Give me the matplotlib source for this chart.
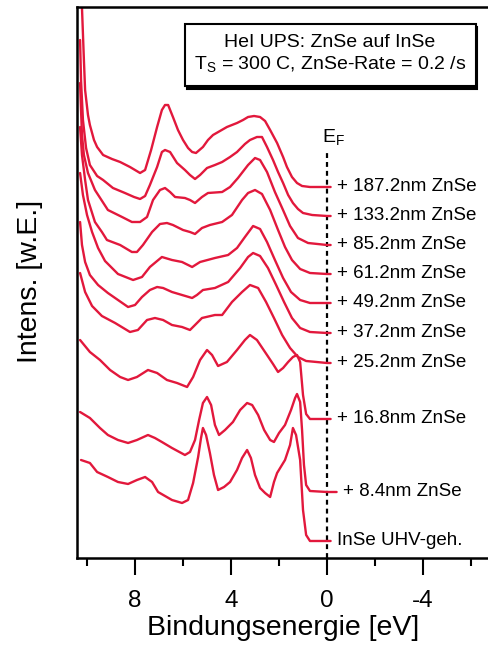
import matplotlib
matplotlib.use("Agg")
import matplotlib.pyplot as plt
from matplotlib.patches import Rectangle

plt.rcParams['font.family'] = ['Liberation Sans', 'DejaVu Sans']
plt.rcParams['mathtext.default'] = 'regular'
plt.rcParams['axes.unicode_minus'] = False

# HeI UPS spectra (binding energy in eV, intensity in a.u. incl. offset)
e_1872 = [10.21, 10.13, 10.08, 9.96, 9.88, 9.71, 9.58, 9.33, 8.96, 8.62, 8.21, 7.79, 7.58, 7.33, 7.08,
          6.88, 6.75, 6.62, 6.42, 6.21, 6.00, 5.79, 5.62, 5.46, 5.17, 4.96, 4.75, 4.46, 4.17, 3.75,
          3.50, 3.29, 3.04, 2.79, 2.58, 2.37, 2.08, 1.83, 1.67, 1.46, 1.25, 1.04, 0.71, 0.00, -0.15]
i_1872 = [550, 498, 468, 443, 433, 418, 411, 403, 399, 396, 391, 385, 388, 408, 431,
          448, 453, 453, 441, 428, 418, 410, 406, 405, 411, 418, 423, 427, 431, 435,
          438, 441, 442, 441, 437, 428, 415, 401, 391, 381, 375, 372, 371, 371, 371]

e_1332 = [10.29, 10.25, 10.17, 10.04, 9.88, 9.58, 9.33, 8.92, 8.42, 8.04, 7.79, 7.58, 7.38, 7.08,
          6.88, 6.75, 6.54, 6.25, 5.92, 5.71, 5.50, 5.29, 5.00, 4.67, 4.37, 4.04, 3.75, 3.42,
          3.21, 2.92, 2.71, 2.50, 2.25, 2.04, 1.83, 1.62, 1.42, 1.21, 1.00, 0.62, 0.00, -0.15]
i_1332 = [518, 478, 438, 410, 393, 382, 378, 370, 365, 361, 359, 362, 373, 391,
          406, 408, 406, 395, 388, 383, 379, 383, 390, 393, 396, 401, 406, 414,
          418, 421, 421, 411, 398, 386, 375, 363, 355, 349, 345, 343, 342, 342]

e_852 = [10.29, 10.25, 10.21, 10.13, 9.96, 9.67, 9.13, 8.54, 8.13, 7.79, 7.50, 7.25, 6.96, 6.75,
         6.54, 6.33, 5.92, 5.71, 5.50, 5.21, 4.96, 4.37, 4.04, 3.71, 3.29, 3.00, 2.79, 2.50,
         2.17, 1.87, 1.54, 1.21, 0.79, 0.00, -0.15]
i_852 = [475, 448, 423, 403, 385, 368, 348, 341, 336, 336, 341, 358, 368, 370,
         366, 361, 360, 358, 355, 361, 365, 366, 371, 380, 393, 400, 398, 386,
         366, 350, 332, 320, 315, 313, 313]

e_612 = [10.29, 10.21, 10.08, 9.96, 9.67, 9.38, 9.17, 8.62, 8.13, 7.92, 7.67, 7.29, 6.96, 6.67,
         6.42, 6.00, 5.71, 5.50, 5.21, 4.88, 4.37, 3.96, 3.54, 3.29, 3.00, 2.71, 2.37, 2.04,
         1.75, 1.46, 1.12, 0.71, 0.00, -0.15]
i_612 = [431, 403, 378, 358, 336, 326, 318, 313, 306, 306, 313, 326, 334, 335,
         333, 328, 326, 324, 330, 333, 336, 343, 358, 365, 368, 364, 348, 328,
         311, 298, 289, 285, 284, 284]

e_492 = [10.29, 10.17, 10.00, 9.79, 9.54, 9.25, 8.71, 8.08, 7.71, 7.38, 6.88, 6.46, 6.04, 5.62,
         5.29, 4.67, 4.12, 3.75, 3.42, 3.08, 2.79, 2.50, 2.17, 1.83, 1.50, 1.12, 0.71, 0.00, -0.15]
i_492 = [385, 363, 343, 326, 310, 297, 284, 278, 281, 291, 301, 298, 296, 291,
         296, 300, 303, 310, 321, 332, 329, 316, 298, 280, 266, 258, 255, 255, 255]

e_372 = [10.29, 10.21, 10.08, 9.88, 9.54, 9.13, 8.71, 8.29, 8.00, 7.71, 7.38, 7.08, 6.83, 6.46,
         6.04, 5.62, 5.42, 5.17, 4.67, 4.12, 3.62, 3.29, 3.08, 2.79, 2.46, 2.12, 1.79, 1.46,
         1.12, 0.71, 0.00, -0.15]
i_372 = [336, 313, 296, 283, 273, 265, 258, 251, 253, 261, 268, 271, 270, 266,
         263, 260, 263, 268, 270, 276, 290, 301, 305, 302, 290, 273, 256, 240,
         230, 226, 225, 225]

e_252 = [10.29, 10.08, 9.79, 9.38, 8.83, 8.21, 7.88, 7.50, 7.17, 6.83, 6.46, 6.04, 5.71, 5.50,
         5.21, 4.67, 4.37, 3.96, 3.54, 3.21, 2.87, 2.54, 2.21, 1.87, 1.54, 1.21, 0.87, 0.00, -0.15]
i_252 = [285, 266, 252, 242, 235, 226, 228, 238, 240, 238, 233, 231, 228, 233,
         240, 243, 243, 256, 266, 273, 270, 256, 240, 223, 210, 201, 197, 195, 195]

e_168 = [10.29, 9.88, 9.46, 9.04, 8.62, 8.29, 7.92, 7.46, 7.08, 6.67, 6.25, 5.83, 5.58, 5.29,
         5.00, 4.79, 4.54, 4.17, 3.75, 3.42, 3.21, 2.92, 2.50, 2.25, 2.04, 1.83, 1.62, 1.42,
         1.25, 1.12, 1.00, 0.87, 0.71, 0.00, -0.15]
i_168 = [218, 206, 198, 188, 181, 178, 181, 188, 185, 178, 175, 171, 181, 198,
         208, 203, 192, 196, 208, 218, 223, 218, 203, 194, 186, 190, 196, 201,
         203, 196, 163, 144, 139, 139, 139]

e_84 = [10.29, 9.88, 9.46, 9.13, 8.71, 8.29, 7.92, 7.46, 7.17, 6.88, 6.46, 5.92, 5.71, 5.50,
        5.33, 5.17, 5.00, 4.83, 4.67, 4.50, 4.25, 3.92, 3.62, 3.33, 3.12, 2.87, 2.62, 2.37,
        2.21, 2.00, 1.75, 1.50, 1.33, 1.25, 1.12, 1.04, 0.96, 0.87, 0.71, 0.00, -0.40]
i_84 = [146, 140, 130, 123, 118, 115, 118, 123, 120, 116, 110, 103, 106, 118,
        138, 155, 161, 153, 133, 123, 128, 136, 148, 155, 153, 143, 128, 118,
        116, 125, 133, 148, 160, 164, 156, 128, 93, 73, 67, 66, 66]

e_inse = [10.25, 9.88, 9.58, 9.13, 8.71, 8.29, 7.92, 7.58, 7.29, 7.04, 6.46, 6.04, 5.79, 5.58,
          5.37, 5.25, 5.17, 5.04, 4.88, 4.71, 4.54, 4.29, 4.04, 3.75, 3.54, 3.33, 3.17, 3.00,
          2.79, 2.58, 2.37, 2.21, 2.08, 1.75, 1.54, 1.42, 1.29, 1.12, 1.00, 0.87, 0.71, 0.00, -0.15]
i_inse = [98, 95, 86, 81, 76, 74, 78, 81, 76, 66, 58, 55, 58, 75,
          101, 120, 130, 123, 105, 83, 68, 71, 76, 88, 100, 108, 100, 83,
          70, 65, 61, 76, 85, 98, 113, 130, 123, 98, 48, 23, 17, 17, 17]

spectra = [(e_1872, i_1872), (e_1332, i_1332), (e_852, i_852), (e_612, i_612), (e_492, i_492),
           (e_372, i_372), (e_252, i_252), (e_168, i_168), (e_84, i_84), (e_inse, i_inse)]
labels = ['+ 187.2nm ZnSe', '+ 133.2nm ZnSe', '+ 85.2nm ZnSe', '+ 61.2nm ZnSe', '+ 49.2nm ZnSe',
          '+ 37.2nm ZnSe', '+ 25.2nm ZnSe', '+ 16.8nm ZnSe', '+ 8.4nm ZnSe', 'InSe UHV-geh.']

red = '#e2183c'

fig = plt.figure(figsize=(4.89, 6.48), dpi=100)
ax = fig.add_axes([0.1575, 0.1389, 0.8425, 0.8503])

for (e, i), lab in zip(spectra, labels):
    ax.plot(e, i, color=red, lw=1.7, solid_joinstyle='round', solid_capstyle='round')
    ax.text(e[-1] - 0.27, i[-1], lab, fontsize=13.5, va='center', ha='left')

# Fermi level marker
ax.plot([0, 0], [0, 405], color='black', lw=1.6, dashes=(2.2, 1.8), zorder=1)
ax.text(-0.25, 421, 'E$_F$', fontsize=14, ha='center', va='center')

# info box with drop shadow
ax.add_patch(Rectangle((0.266, 0.852), 0.706, 0.1125, transform=ax.transAxes,
                       facecolor='black', edgecolor='black', lw=1.5, zorder=4))
ax.add_patch(Rectangle((0.262, 0.857), 0.706, 0.1125, transform=ax.transAxes,
                       facecolor='white', edgecolor='black', lw=1.5, zorder=5))
ax.text(0.614, 0.936, 'HeI UPS: ZnSe auf InSe', transform=ax.transAxes,
        fontsize=14, ha='center', va='center', zorder=6)
ax.text(0.614, 0.896, 'T$_S$ = 300 C, ZnSe-Rate = 0.2 /s', transform=ax.transAxes,
        fontsize=14, ha='center', va='center', zorder=6)

ax.set_xlim(10.417, -6.75)
ax.set_ylim(0, 551)
ax.set_xticks([8, 4, 0, -4])
ax.set_xticks([10, 6, 2, -2, -6], minor=True)
ax.set_yticks([])
ax.tick_params(axis='x', which='major', direction='out', length=12, width=1.5, labelsize=17.5, pad=11)
ax.tick_params(axis='x', which='minor', direction='out', length=6, width=1.5)
ax.spines['right'].set_visible(False)
for s in ['left', 'top', 'bottom']:
    ax.spines[s].set_linewidth(1.8)

ax.set_xlabel('Bindungsenergie [eV]', fontsize=20.5, labelpad=2)
fig.text(0.062, 0.565, 'Intens. [w.E.]', rotation=90, fontsize=20.5, ha='center', va='center')

fig.savefig('out.png', dpi=100)
